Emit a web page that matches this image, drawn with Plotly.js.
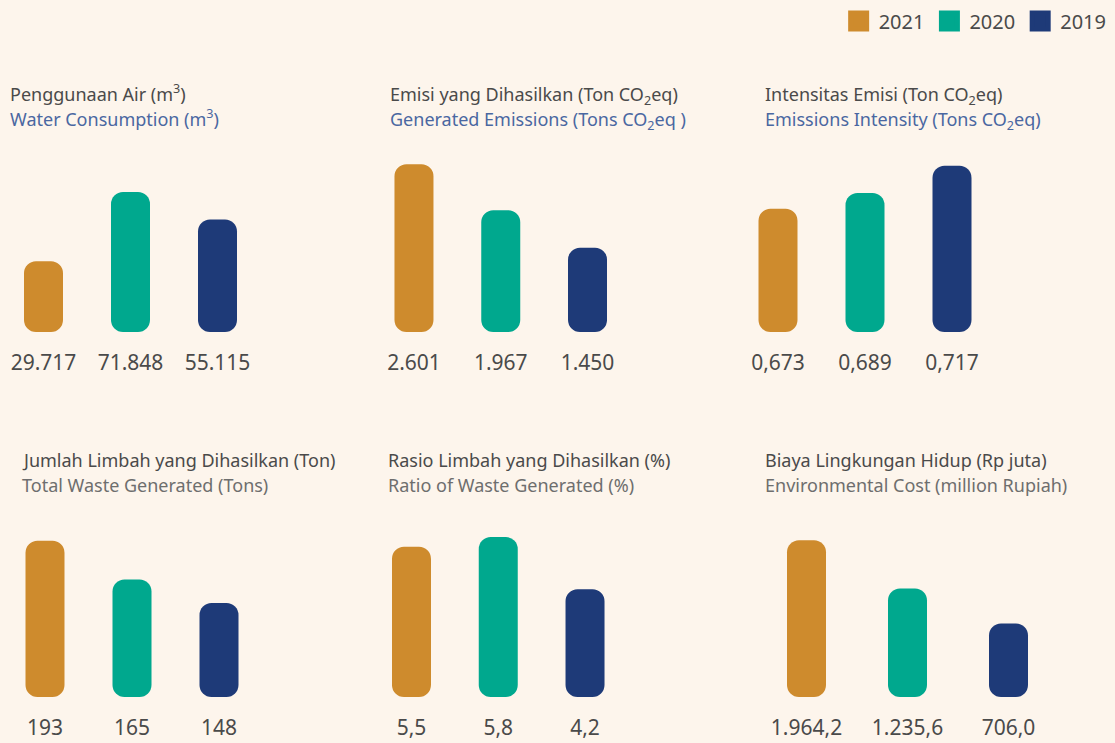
<!DOCTYPE html>
<html><head><meta charset="utf-8">
<script src="https://cdn.plot.ly/plotly-3.0.1.min.js"></script>
<style>html,body{margin:0;padding:0;background:#fdf5ec;}#chart{width:1115px;height:743px;}</style>
</head><body><div id="chart"></div>
<script>
// ---- data ----
const years = ['2021', '2020', '2019'];
const yearColors = ['#ce8b2d', '#00a88e', '#1e3a78'];

const waterValues = [29717, 71848, 55115];
const waterLabels = ['29.717', '71.848', '55.115'];
const emissionValues = [2601, 1967, 1450];
const emissionLabels = ['2.601', '1.967', '1.450'];
const intensityValues = [0.673, 0.689, 0.717];
const intensityLabels = ['0,673', '0,689', '0,717'];
const wasteValues = [193, 165, 148];
const wasteLabels = ['193', '165', '148'];
const wasteRatioValues = [5.5, 5.8, 4.2];
const wasteRatioLabels = ['5,5', '5,8', '4,2'];
const costValues = [1964.2, 1235.6, 706.0];
const costLabels = ['1.964,2', '1.235,6', '706,0'];

const titlesId = [
  'Penggunaan Air (m<sup>3</sup>)',
  'Emisi yang Dihasilkan (Ton CO<sub>2</sub>eq)',
  'Intensitas Emisi (Ton CO<sub>2</sub>eq)',
  'Jumlah Limbah yang Dihasilkan (Ton)',
  'Rasio Limbah yang Dihasilkan (%)',
  'Biaya Lingkungan Hidup (Rp juta)'
];
const titlesEn = [
  'Water Consumption (m<sup>3</sup>)',
  'Generated Emissions (Tons CO<sub>2</sub>eq )',
  'Emissions Intensity (Tons CO<sub>2</sub>eq)',
  'Total Waste Generated (Tons)',
  'Ratio of Waste Generated (%)',
  'Environmental Cost (million Rupiah)'
];

const seriesValues = [waterValues, emissionValues, intensityValues, wasteValues, wasteRatioValues, costValues];
const seriesLabels = [waterLabels, emissionLabels, intensityLabels, wasteLabels, wasteRatioLabels, costLabels];

// ---- layout (pixels) ----
const W = 1115, H = 743;
const panels = [
  {x0: 0,     x1: 261,   row: 0, yr: [-13266, 97440], tx: 8,   dy: 0, enColor: '#4a67a1'},
  {x0: 370.6, x1: 630.9, row: 0, yr: [287.4, 2796.4], tx: 388, dy: 3, enColor: '#4a67a1'},
  {x0: 734.5, x1: 995.5, row: 0, yr: [0.5472, 0.7330], tx: 763, dy: 2, enColor: '#4a67a1'},
  {x0: 1.5,   x1: 262.5, row: 1, yr: [80.2, 211.5],   tx: 20,  dy: 0, enColor: '#6e6e6e'},
  {x0: 368.1, x1: 628.4, row: 1, yr: [0.899, 6.472],  tx: 386, dy: 0, enColor: '#6e6e6e'},
  {x0: 756,   x1: 1059,  row: 1, yr: [-401.4, 2344.9], tx: 763, dy: 0, enColor: '#6e6e6e'}
];
const rows = [
  {bottom: 332, top: 150, t1: 93, t2: 118},
  {bottom: 697, top: 515, t1: 460, t2: 485}
];
const barPx = 39;
const textDark = '#4a4a4a';
const fontFam = '"Noto Sans", "Open Sans", sans-serif';

const traces = [];
const layout = {
  width: W, height: H,
  margin: {l: 0, r: 0, t: 0, b: 0},
  paper_bgcolor: '#fdf5ec', plot_bgcolor: 'rgba(0,0,0,0)',
  barmode: 'overlay',
  showlegend: true,
  legend: {orientation: 'h', x: 0.997, xanchor: 'right', y: 0.998, yanchor: 'top',
           font: {family: fontFam, size: 20, color: textDark}, bgcolor: 'rgba(0,0,0,0)',
           itemclick: false, itemdoubleclick: false},
  annotations: [],
  font: {family: fontFam}
};

panels.forEach((p, i) => {
  const n = i + 1;
  const xa = 'x' + (n === 1 ? '' : n), ya = 'y' + (n === 1 ? '' : n);
  const r = rows[p.row];
  const vals = seriesValues[i];
  const B = p.yr[0];
  const spacing = (p.x1 - p.x0) / 3;
  const w = barPx / spacing;
  // bars start at the bottom of the visible axis range; a set base rounds both ends
  traces.push({
    type: 'bar', x: years, y: vals.map(v => v - B), base: vals.map(() => B), width: w,
    marker: {color: yearColors, cornerradius: 12, line: {width: 0}},
    xaxis: xa, yaxis: ya, showlegend: false, hoverinfo: 'skip'
  });
  layout['xaxis' + (n === 1 ? '' : n)] = {
    domain: [p.x0 / W, p.x1 / W], anchor: ya, type: 'category',
    range: [-0.5, 2.5], tickvals: years, ticktext: seriesLabels[i],
    showgrid: false, zeroline: false, showline: false, ticks: '',
    tickfont: {family: fontFam, size: 21, color: textDark}, ticklabelstandoff: 16,
    fixedrange: true
  };
  layout['yaxis' + (n === 1 ? '' : n)] = {
    domain: [(H - r.bottom) / H, (H - r.top) / H], anchor: xa,
    range: p.yr, visible: false, fixedrange: true
  };
  layout.annotations.push({
    xref: 'paper', yref: 'paper', x: p.tx / W, y: 1 - (r.t1 + p.dy) / H, xanchor: 'left', yanchor: 'middle',
    text: titlesId[i], showarrow: false, font: {family: fontFam, size: 18, color: textDark}
  });
  layout.annotations.push({
    xref: 'paper', yref: 'paper', x: p.tx / W, y: 1 - (r.t2 + p.dy) / H, xanchor: 'left', yanchor: 'middle',
    text: titlesEn[i], showarrow: false, font: {family: fontFam, size: 18, color: p.enColor}
  });
});

// legend entries
years.forEach((yr, k) => {
  traces.push({
    type: 'scatter', mode: 'markers', x: [null], y: [null], name: yr,
    marker: {symbol: 'square', size: 16, color: yearColors[k], line: {width: 5, color: yearColors[k]}},
    xaxis: 'x', yaxis: 'y', showlegend: true, hoverinfo: 'skip'
  });
});

Plotly.newPlot('chart', traces, layout, {displayModeBar: false, staticPlot: true});
</script>
</body></html>
